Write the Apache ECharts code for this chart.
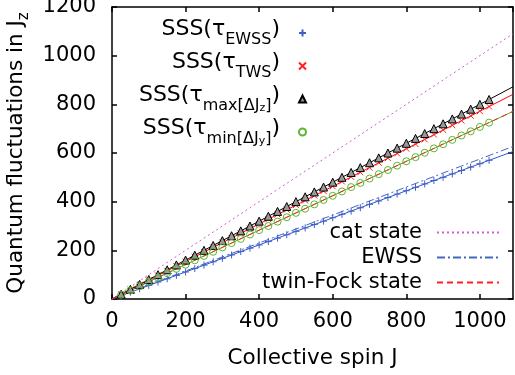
<!DOCTYPE html>
<html>
<head>
<meta charset="utf-8">
<script src="https://cdn.jsdelivr.net/npm/echarts@6.0.0/dist/echarts.min.js"></script>
<style>
  html, body { margin: 0; padding: 0; background: #fff; }
  #main { width: 515px; height: 375px; }
</style>
</head>
<body>
<div id="main"></div>
<script>
// collective spin J of the computed SSS points
const spinJ = [25, 50, 75, 100, 125, 150, 175, 200, 225, 250, 275, 300, 325, 350, 375, 400, 425, 450, 475, 500,
  525, 550, 575, 600, 625, 650, 675, 700, 725, 750, 775, 800, 825, 850, 875, 900, 925, 950, 975, 1000, 1025];

// quantum fluctuations in Jz for each squeezing time
const sssEwss = [14, 28, 42, 56, 70, 83, 97, 111, 125, 139, 153, 167, 181, 195, 209, 222, 236, 250, 264, 278,
  292, 306, 320, 334, 348, 361, 375, 389, 403, 417, 431, 445, 459, 473, 487, 500, 514, 528, 542, 556, 570];
const sssTws = [19, 39, 58, 77, 97, 116, 135, 154, 174, 193, 212, 232, 251, 270, 290, 309, 328, 347, 367, 386,
  405, 425, 444, 463, 483, 502, 521, 540, 560, 579, 598, 618, 637, 656, 676, 695, 714, 733, 753, 772, 791];
const sssMaxJz = [20, 40, 60, 80, 100, 120, 140, 160, 180, 200, 220, 240, 260, 280, 300, 320, 340, 360, 380, 400,
  420, 440, 460, 480, 500, 520, 540, 560, 580, 600, 620, 640, 660, 680, 700, 720, 740, 760, 780, 800, 820];
const sssMinJy = [18, 35, 53, 71, 88, 106, 124, 141, 159, 177, 194, 212, 230, 247, 265, 283, 300, 318, 336, 354,
  371, 389, 407, 424, 442, 460, 477, 495, 513, 530, 548, 566, 583, 601, 619, 636, 654, 672, 689, 707, 725];

// straight lines, values at the two ends of the J range
const lineJ = [0, 1090];
const catState = [0, 1090];
const ewssLine = [0, 627];
const twinFock = [0, 771];
const fitEwss = [0, 606];
const fitTws = [0, 841];
const fitMaxJz = [0, 872];
const fitMinJy = [0, 771];

const xMax = 1090, yMax = 1200, tickStep = 200;

const chart = echarts.init(document.getElementById('main'));
const font = 'DejaVu Sans';
const plus = 'path://M0,5L10,5M5,0L5,10';
const cross = 'path://M0,0L10,10M10,0L0,10';
const none = 'rgba(0,0,0,0)';

const pts = (ys) => spinJ.map((j, i) => [j, ys[i]]);
const seg = (ys) => lineJ.map((j, i) => [j, ys[i]]);

const legendText = {
  ewss: '{m|SSS(τ}{s|EWSS}{m|)}',
  tws: '{m|SSS(τ}{s|TWS}{m|)}',
  maxJz: '{m|SSS(τ}{s|max[ΔJ}{ss|z}{s|]}{m|)}',
  minJy: '{m|SSS(τ}{s|min[ΔJ}{ss|y}{s|]}{m|)}'
};

const frame = { color: '#000', width: 1.5 };
const plain = (v) => String(v);

function scatter(name, symbol, size, fill, stroke, ys) {
  return {
    name, type: 'scatter', data: pts(ys), symbol, symbolSize: size, symbolKeepAspect: true,
    itemStyle: { color: fill, borderColor: stroke, borderWidth: 1, opacity: 1 },
    z: 5, silent: true
  };
}

function line(name, color, type, ys) {
  return {
    name, type: 'line', data: seg(ys), symbol: 'none', showSymbol: false,
    itemStyle: { color },
    lineStyle: { color, width: 1, type },
    z: 3, silent: true
  };
}

const option = {
  animation: false,
  grid: { left: 112, right: 2, top: 7, bottom: 76, outerBoundsMode: 'none' },
  xAxis: [{
    type: 'value', min: 0, max: xMax, interval: tickStep, position: 'bottom',
    name: 'Collective spin J', nameLocation: 'middle', nameGap: 48,
    nameTextStyle: { fontFamily: font, fontSize: 21.5, color: '#000' },
    axisLine: { show: true, onZero: false, lineStyle: frame },
    axisTick: { show: true, inside: true, length: 5, lineStyle: frame },
    axisLabel: { fontFamily: font, fontSize: 21, color: '#000', margin: 12, formatter: plain },
    splitLine: { show: false }
  }, {
    type: 'value', min: 0, max: xMax, interval: tickStep, position: 'top',
    axisLine: { show: true, onZero: false, lineStyle: frame },
    axisTick: { show: true, inside: true, length: 5, lineStyle: frame },
    axisLabel: { show: false },
    splitLine: { show: false }
  }],
  yAxis: [{
    type: 'value', min: 0, max: yMax, interval: tickStep, position: 'left',
    name: 'Quantum fluctuations in J{s|z}', nameLocation: 'middle', nameGap: 77, nameRotate: 90,
    nameTextStyle: {
      fontFamily: font, fontSize: 21.5, color: '#000', lineHeight: 30,
      rich: { s: { fontFamily: font, fontSize: 15, color: '#000', verticalAlign: 'bottom' } }
    },
    axisLine: { show: true, onZero: false, lineStyle: frame },
    axisTick: { show: true, inside: true, length: 5, lineStyle: frame },
    axisLabel: { fontFamily: font, fontSize: 21, color: '#000', margin: 16, formatter: plain },
    splitLine: { show: false }
  }, {
    type: 'value', min: 0, max: yMax, interval: tickStep, position: 'right',
    axisLine: { show: true, onZero: false, lineStyle: frame },
    axisTick: { show: true, inside: true, length: 5, lineStyle: frame },
    axisLabel: { show: false },
    splitLine: { show: false }
  }],
  legend: [{
    data: ['ewss', 'tws', 'maxJz', 'minJy'],
    orient: 'vertical', align: 'right', right: 208, top: 18, padding: 0, itemGap: 3,
    itemWidth: 7, itemHeight: 7, selectedMode: false,
    formatter: (n) => legendText[n],
    textStyle: {
      fontFamily: font, fontSize: 22, lineHeight: 30, color: '#000', padding: [0, 14, 0, 0],
      rich: {
        m: { fontFamily: font, fontSize: 22, color: '#000', verticalAlign: 'top' },
        s: { fontFamily: font, fontSize: 16, color: '#000', verticalAlign: 'bottom' },
        ss: { fontFamily: font, fontSize: 11, color: '#000', verticalAlign: 'bottom' }
      }
    }
  }, {
    data: ['cat state', 'EWSS', 'twin-Fock state'],
    orient: 'vertical', align: 'right', right: 15, top: 220, padding: 0, itemGap: 0,
    itemWidth: 62, itemHeight: 10, selectedMode: false,
    itemStyle: { opacity: 0 },
    textStyle: { fontFamily: font, fontSize: 21, lineHeight: 25, color: '#000', padding: [0, 10, 0, 0] }
  }],
  series: [
    line('fitEwss', '#3355cc', 'solid', fitEwss),
    line('fitMinJy', '#55b030', 'solid', fitMinJy),
    line('fitTws', '#ff0000', 'solid', fitTws),
    line('fitMaxJz', '#000000', 'solid', fitMaxJz),
    line('cat state', '#cc5fcc', [2, 3], catState),
    line('EWSS', '#4466c0', [8, 3, 2, 3], ewssLine),
    line('twin-Fock state', '#ff2020', [6, 4], twinFock),
    scatter('ewss', plus, 7, none, '#3f5fc8', sssEwss),
    scatter('tws', cross, 6, none, '#ff2020', sssTws),
    scatter('maxJz', 'triangle', 8, '#999999', '#000000', sssMaxJz),
    scatter('minJy', 'circle', 7, none, '#5cb531', sssMinJy)
  ]
};

chart.setOption(option);
</script>
</body>
</html>
